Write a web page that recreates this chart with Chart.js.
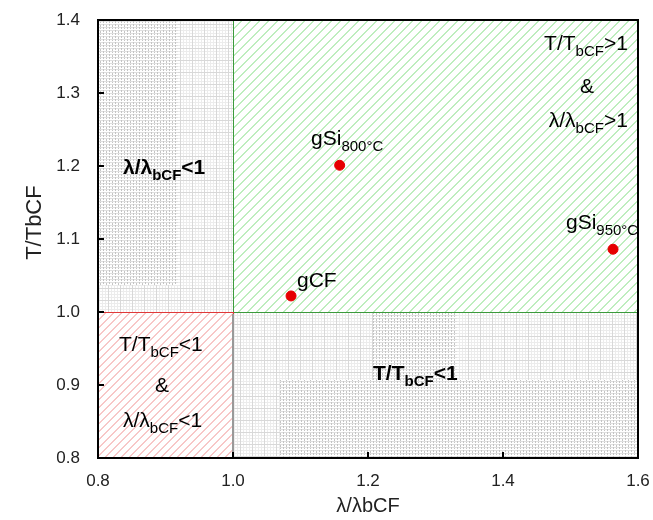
<!DOCTYPE html>
<html>
<head>
<meta charset="utf-8">
<script src="https://cdn.jsdelivr.net/npm/chart.js@4/dist/chart.umd.min.js"></script>
<style>
  html, body { margin: 0; padding: 0; background: #fff; }
  #wrap { width: 653px; height: 520px; }
</style>
</head>
<body>
<div id="wrap"><canvas id="c" width="653" height="520"></canvas></div>
<script>
// Samples: strength ratio vs. modulus ratio, both relative to the baseline carbon fibre
const sampleNames = ['gCF', 'gSi800', 'gSi950'];
const lambdaRatio = [1.086, 1.158, 1.563];
const tensileRatio = [1.022, 1.201, 1.086];
const xTicks = [0.8, 1.0, 1.2, 1.4, 1.6];
const yTicks = [0.8, 0.9, 1.0, 1.1, 1.2, 1.3, 1.4];
const threshold = 1.0;
const yTitle = 'T/TbCF';

const FONT = '"Liberation Sans", Arial, sans-serif';

// Tiled textures for the neutral quadrants
function makeTile(size, painter) {
  const t = document.createElement('canvas');
  t.width = size; t.height = size;
  painter(t.getContext('2d'));
  return t;
}
const lightTile = makeTile(12, g => {
  g.fillStyle = '#ffffff'; g.fillRect(0, 0, 12, 12);
  g.fillStyle = '#ececec';
  for (let i = 0; i < 12; i += 3) { g.fillRect(i, 0, 1, 12); g.fillRect(0, i, 12, 1); }
  g.fillStyle = '#d8d8d8';
  g.fillRect(0, 0, 1, 12); g.fillRect(0, 0, 12, 1);
});
const denseTile = makeTile(6, g => {
  g.fillStyle = '#ffffff'; g.fillRect(0, 0, 6, 6);
  g.fillStyle = '#e0e0e0';
  g.fillRect(0, 0, 6, 1); g.fillRect(0, 3, 6, 1);
  g.fillStyle = '#c4c4c4';
  g.fillRect(1, 0, 1, 2); g.fillRect(1, 3, 1, 2);
  g.fillRect(4, 1, 1, 2); g.fillRect(4, 4, 1, 1);
});

function rectPx(sx, sy, x0, x1, y0, y1) {
  const a = sx.getPixelForValue(x0), b = sx.getPixelForValue(x1);
  const c = sy.getPixelForValue(y1), d = sy.getPixelForValue(y0);
  return [Math.round(a), Math.round(c), Math.round(b - a), Math.round(d - c)];
}

function hatch(ctx, r, spacing, color) {
  const [x, y, w, h] = r;
  ctx.save();
  ctx.beginPath(); ctx.rect(x, y, w, h); ctx.clip();
  ctx.strokeStyle = color; ctx.lineWidth = 1;
  ctx.beginPath();
  for (let k = -h; k < w + h; k += spacing) {
    ctx.moveTo(x + k + 0.5, y + h);
    ctx.lineTo(x + k + h + 0.5, y);
  }
  ctx.stroke();
  ctx.restore();
}

// Text with subscript runs: parts = [[text, isSub], ...]
function richText(ctx, parts, x, y, opts) {
  const size = opts.size || 21, sub = opts.sub || 15, weight = opts.bold ? 'bold ' : '';
  let w = 0;
  parts.forEach(([t, s]) => {
    ctx.font = weight + (s ? sub : size) + 'px ' + FONT;
    w += ctx.measureText(t).width;
  });
  let cx = opts.align === 'right' ? x - w : opts.align === 'center' ? x - w / 2 : x;
  ctx.fillStyle = '#000';
  ctx.textBaseline = 'alphabetic';
  ctx.textAlign = 'left';
  parts.forEach(([t, s]) => {
    ctx.font = weight + (s ? sub : size) + 'px ' + FONT;
    ctx.fillText(t, cx, s ? y + 6 : y);
    cx += ctx.measureText(t).width;
  });
}

const quadrantPlugin = {
  id: 'quadrants',
  beforeDatasetsDraw(chart) {
    const { ctx, scales: { x: sx, y: sy } } = chart;
    const xmin = sx.min, xmax = sx.max, ymin = sy.min, ymax = sy.max;
    ctx.save();
    const light = ctx.createPattern(lightTile, 'repeat');
    const dense = ctx.createPattern(denseTile, 'repeat');

    // neutral quadrants
    const neutral = [
      rectPx(sx, sy, xmin, threshold, threshold, ymax),
      rectPx(sx, sy, threshold, xmax, ymin, threshold)
    ];
    neutral.forEach(r => { ctx.fillStyle = light; ctx.fillRect(...r); });
    [
      [xmin, 0.919, 1.037, ymax],
      [1.207, 1.332, 0.907, 0.999],
      [1.07, xmax, ymin, 0.907]
    ].forEach(([a, b, c, d]) => { ctx.fillStyle = dense; ctx.fillRect(...rectPx(sx, sy, a, b, c, d)); });

    // both ratios above baseline
    const good = rectPx(sx, sy, threshold, xmax, threshold, ymax);
    ctx.fillStyle = '#fff'; ctx.fillRect(...good);
    hatch(ctx, good, 9, '#7edc7e');
    ctx.strokeStyle = '#3c9a3c'; ctx.lineWidth = 1;
    ctx.strokeRect(good[0] + 0.5, good[1] + 0.5, good[2], good[3]);

    // both ratios below baseline
    const bad = rectPx(sx, sy, xmin, threshold, ymin, threshold);
    ctx.fillStyle = '#fff'; ctx.fillRect(...bad);
    hatch(ctx, bad, 8, '#f09090');
    ctx.strokeStyle = '#e03a3a'; ctx.lineWidth = 1;
    ctx.strokeRect(bad[0] + 0.5, bad[1] + 0.5, bad[2], bad[3]);
    ctx.strokeStyle = '#999'; ctx.lineWidth = 2;
    ctx.beginPath(); ctx.moveTo(bad[0] + bad[2], bad[1] + 2); ctx.lineTo(bad[0] + bad[2], bad[1] + bad[3]); ctx.stroke();
    ctx.restore();
  },
  afterDatasetsDraw(chart) {
    const { ctx, chartArea: ca, scales: { x: sx, y: sy } } = chart;
    const px = v => sx.getPixelForValue(v), py = v => sy.getPixelForValue(v);
    ctx.save();

    // region captions
    richText(ctx, [['T/T', 0], ['bCF', 1], ['>1', 0]], px(1.585), py(1.359), { align: 'right' });
    richText(ctx, [['&', 0]], px(1.5244), py(1.300), { align: 'center' });
    richText(ctx, [['λ/λ', 0], ['bCF', 1], ['>1', 0]], px(1.585), py(1.2534), { align: 'right' });

    richText(ctx, [['λ/λ', 0], ['bCF', 1], ['<1', 0]], px(0.837), py(1.189), { bold: true });

    richText(ctx, [['T/T', 0], ['bCF', 1], ['<1', 0]], px(0.8311), py(0.9466), {});
    richText(ctx, [['&', 0]], px(0.8948), py(0.8904), { align: 'center' });
    richText(ctx, [['λ/λ', 0], ['bCF', 1], ['<1', 0]], px(0.837), py(0.8425), {});

    richText(ctx, [['T/T', 0], ['bCF', 1], ['<1', 0]], px(1.2074), py(0.9068), { bold: true });

    // sample labels
    richText(ctx, [['gSi', 0], ['800°C', 1]], px(1.1156), py(1.2288), {});
    richText(ctx, [['gCF', 0]], px(1.0948), py(1.0342), {});
    richText(ctx, [['gSi', 0], ['950°C', 1]], px(1.4933), py(1.1137), {});

    // frame and inward ticks
    ctx.strokeStyle = '#000';
    ctx.lineWidth = 2;
    ctx.strokeRect(ca.left, ca.top, ca.right - ca.left, ca.bottom - ca.top);
    ctx.beginPath();
    yTicks.forEach(v => { const y = Math.round(py(v)); ctx.moveTo(ca.left, y); ctx.lineTo(ca.left + 6, y); });
    xTicks.forEach(v => { const x = Math.round(px(v)); ctx.moveTo(x, ca.bottom); ctx.lineTo(x, ca.bottom - 6); });
    ctx.stroke();

    // vertical axis title, set a little above the axis midpoint
    ctx.translate(35, py(1.1225));
    ctx.rotate(-Math.PI / 2);
    ctx.font = '22px ' + FONT;
    ctx.fillStyle = '#222';
    ctx.textAlign = 'center';
    ctx.textBaseline = 'middle';
    ctx.fillText(yTitle, 0, 0);
    ctx.restore();
  }
};

new Chart(document.getElementById('c'), {
  type: 'scatter',
  data: {
    datasets: [{
      label: 'samples',
      data: sampleNames.map((n, i) => ({ x: lambdaRatio[i], y: tensileRatio[i] })),
      backgroundColor: '#e60000',
      borderColor: '#e60000',
      pointRadius: 5,
      pointHoverRadius: 5
    }]
  },
  options: {
    responsive: false,
    devicePixelRatio: 1,
    animation: false,
    layout: { padding: { top: 20, right: 15, left: 0, bottom: 0 } },
    plugins: { legend: { display: false }, tooltip: { enabled: false } },
    scales: {
      x: {
        type: 'linear', min: 0.8, max: 1.6,
        afterBuildTicks: s => { s.ticks = xTicks.map(v => ({ value: v })); },
        afterFit: s => { s.height = 62; s.paddingLeft = 0; s.paddingRight = 0; },
        grid: { display: false },
        border: { display: false },
        ticks: { color: '#222', padding: 5, font: { family: FONT, size: 17 }, callback: v => v.toFixed(1), maxRotation: 0 },
        title: { display: true, text: 'λ/λbCF', color: '#222', font: { family: FONT, size: 20 }, padding: { bottom: 2, top: 0 } }
      },
      y: {
        type: 'linear', min: 0.8, max: 1.4,
        afterBuildTicks: s => { s.ticks = yTicks.map(v => ({ value: v })); },
        afterFit: s => { s.width = 98; s.paddingTop = 0; s.paddingBottom = 0; },
        grid: { display: false },
        border: { display: false },
        ticks: { color: '#222', padding: 10, font: { family: FONT, size: 17 }, callback: v => v.toFixed(1) },
        title: { display: false }
      }
    }
  },
  plugins: [quadrantPlugin]
});
</script>
</body>
</html>
